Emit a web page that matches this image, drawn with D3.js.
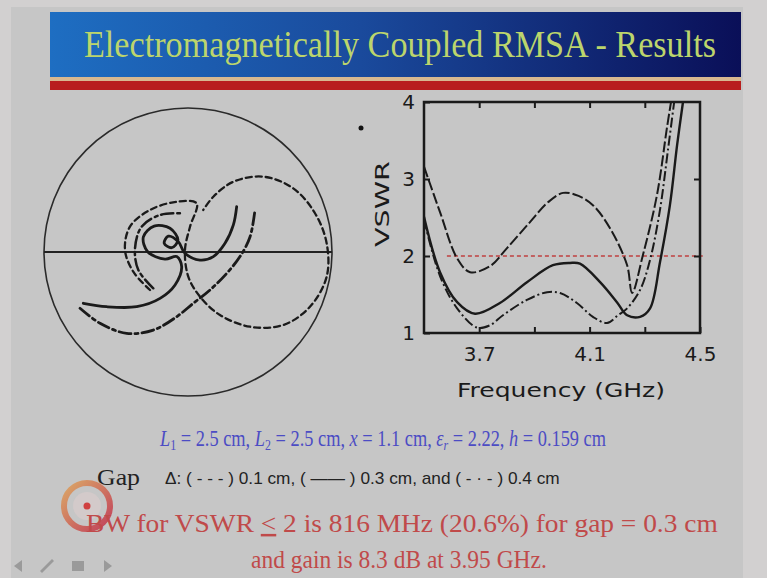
<!DOCTYPE html>
<html><head><meta charset="utf-8">
<script src="https://cdn.jsdelivr.net/npm/d3@7"></script>
<style>html,body{margin:0;padding:0;background:#c8c8c8;}svg{display:block}</style>
</head><body>
<svg id="c" width="767" height="578"></svg>
<script>
// ---------- DATA ----------
const titleText = "Electromagnetically Coupled RMSA - Results";

// VSWR vs frequency (GHz), three gap values
const freqGap01 = [3.50,3.558,3.62,3.667,3.74,3.80,3.884,3.95,4.004,4.06,4.112,4.174,4.236,4.254,4.293,4.344,4.380,4.395];
const vswrGap01 = [3.16,2.57,1.97,1.79,1.87,2.10,2.44,2.70,2.82,2.78,2.66,2.36,1.88,1.52,2.01,2.79,3.66,4.00];

const freqGap03 = [3.50,3.558,3.62,3.685,3.775,3.873,3.967,4.029,4.065,4.138,4.199,4.236,4.283,4.319,4.355,4.391,4.417,4.438];
const vswrGap03 = [2.51,1.79,1.40,1.25,1.39,1.66,1.88,1.91,1.90,1.66,1.40,1.23,1.21,1.32,1.92,2.66,3.44,3.99];

const freqGap04 = [3.50,3.558,3.62,3.692,3.739,3.786,3.873,3.946,3.993,4.054,4.112,4.163,4.203,4.236,4.283,4.319,4.355,4.384,4.406];
const vswrGap04 = [2.47,1.74,1.32,1.07,1.10,1.23,1.43,1.53,1.52,1.39,1.21,1.13,1.23,1.32,1.56,1.95,2.60,3.38,3.99];

const refVSWR = 2;
const refRange = [3.583, 4.51];

const xTickValues = [3.7,3.9,4.1,4.3,4.5];
const xTickLabels = ["3.7","","4.1","","4.5"];
const yTickValues = [1,2,3,4];
const yTickLabels = ["1","2","3","4"];

// Smith chart loci: reflection coefficient [Re, Im]
const smithGap01 = [[-0.264,-0.264],[-0.380,-0.137],[-0.4375,0.014],[-0.403,0.176],[-0.264,0.292],[-0.078,0.349],[0.060,0.338],[0.014,0.176],[-0.021,0.014],[0.002,-0.171],[0.083,-0.310],[0.222,-0.4375],[0.431,-0.519],[0.662,-0.507],[0.847,-0.380],[0.963,-0.171],[0.963,0.060],[0.882,0.269],[0.731,0.442],[0.523,0.523],[0.315,0.488],[0.176,0.384],[0.106,0.292]];
const smithGap03 = [[-0.727,-0.356],[-0.565,-0.380],[-0.356,-0.380],[-0.194,-0.322],[-0.090,-0.229],[-0.044,-0.102],[-0.078,-0.032],[-0.160,-0.050],[-0.280,0.002],[-0.310,0.105],[-0.235,0.180],[-0.125,0.165],[-0.070,0.083],[-0.113,0.030],[-0.165,0.060],[-0.137,0.110],[-0.067,0.072],[-0.021,-0.009],[0.083,-0.056],[0.176,-0.032],[0.257,0.060],[0.315,0.188],[0.338,0.315]];
const smithGap04a = [[-0.75,-0.391],[-0.611,-0.495],[-0.426,-0.565],[-0.241,-0.542],[-0.078,-0.449],[0.037,-0.356],[0.153,-0.264],[0.269,-0.148],[0.361,-0.032],[0.431,0.106],[0.465,0.292]];
const smithGap04b = [[-0.241,-0.252],[-0.345,-0.125],[-0.368,0.025],[-0.322,0.176],[-0.194,0.257],[-0.056,0.269]];

// ---------- DRAW ----------
const svg = d3.select("#c");
const defs = svg.append("defs");
const bg = defs.append("linearGradient").attr("id","ban").attr("x1","0").attr("x2","1");
bg.append("stop").attr("offset","0").attr("stop-color","#1e6ec2");
bg.append("stop").attr("offset","0.45").attr("stop-color","#1a4a9c");
bg.append("stop").attr("offset","1").attr("stop-color","#0a0f58");
const lg = defs.append("linearGradient").attr("id","logo").attr("x1","0").attr("x2","1").attr("y1","0").attr("y2","1");
lg.append("stop").attr("offset","0").attr("stop-color","#e0a050");
lg.append("stop").attr("offset","1").attr("stop-color","#c02040");

function squeezed(parent, x0, y, fontSize, family, fill, width, anchor, build){
  const g = parent.append("g");
  const t = g.append("text").attr("x",0).attr("y",0).attr("font-family",family)
    .attr("font-size",fontSize).attr("fill",fill);
  build(t);
  const w = t.node().getComputedTextLength();
  const k = width / w;
  const left = anchor === "middle" ? x0 - width/2 : x0;
  g.attr("transform",`translate(${left},${y}) scale(${k},1)`);
  return k;
}

// slide background
svg.append("rect").attr("x",0).attr("y",0).attr("width",767).attr("height",578).attr("fill","#d2d0d0");
svg.append("rect").attr("x",11).attr("y",7).attr("width",732).attr("height",571).attr("fill","#c6c6c6");

// banner
svg.append("rect").attr("x",50).attr("y",12).attr("width",691).attr("height",65).attr("fill","url(#ban)");
svg.append("rect").attr("x",50).attr("y",77).attr("width",691).attr("height",4).attr("fill","#d8b890");
svg.append("rect").attr("x",50).attr("y",81).attr("width",691).attr("height",9).attr("fill","#b81e1e");
const serif = "Liberation Serif, Times New Roman, serif";
squeezed(svg, 400, 57, 37, serif, "#bcd56c", 632, "middle", t=>t.text(titleText));

// ---------- Smith chart ----------
const sx = d3.scaleLinear().domain([-1,1]).range([44,332]);
const sy = d3.scaleLinear().domain([-1,1]).range([396,108]);
const sm = svg.append("g");
sm.append("circle").attr("cx",sx(0)).attr("cy",sy(0)).attr("r",sx(1)-sx(0))
  .attr("fill","none").attr("stroke","#2a2a2a").attr("stroke-width",1.6);
sm.append("line").attr("x1",sx(-1)).attr("x2",sx(1)).attr("y1",sy(0)).attr("y2",sy(0))
  .attr("stroke","#222").attr("stroke-width",2.2);
const sline = d3.line().x(d=>sx(d[0])).y(d=>sy(d[1])).curve(d3.curveCatmullRom.alpha(0.5));
const smithSeries = [
  {d:smithGap01, dash:"6,4", w:2.3},
  {d:smithGap03, dash:null, w:2.8},
  {d:smithGap04a, dash:"12,4,3,4", w:2.8},
  {d:smithGap04b, dash:"12,4,3,4", w:2.5}
];
smithSeries.forEach(s=>{
  sm.append("path").attr("d",sline(s.d)).attr("fill","none").attr("stroke","#1a1a1a")
    .attr("stroke-width",s.w).attr("stroke-dasharray",s.dash).attr("stroke-linecap","round");
});

// ---------- VSWR plot ----------
const fx = d3.scaleLinear().domain([3.5,4.5]).range([424,700]);
const vy = d3.scaleLinear().domain([1,4]).range([333,102]);
const vp = svg.append("g");
defs.append("clipPath").attr("id","pc").append("rect").attr("x",424).attr("y",102).attr("width",276).attr("height",231);

vp.append("line").attr("x1",fx(refRange[0])).attr("x2",fx(refRange[1])).attr("y1",vy(refVSWR)).attr("y2",vy(refVSWR))
  .attr("stroke","#c04848").attr("stroke-width",1.8).attr("stroke-dasharray","4,3").attr("opacity",0.8);

const vline = d3.line().x(d=>fx(d[0])).y(d=>vy(d[1])).curve(d3.curveCatmullRom.alpha(0.5));
const vSeries = [
  {f:freqGap01, v:vswrGap01, dash:"11,3", w:2.0},
  {f:freqGap03, v:vswrGap03, dash:null, w:2.4},
  {f:freqGap04, v:vswrGap04, dash:"10,3,2,3", w:2.0}
];
const cg = vp.append("g").attr("clip-path","url(#pc)");
vSeries.forEach(s=>{
  const pts = s.f.map((f,i)=>[f,s.v[i]]);
  cg.append("path").attr("d",vline(pts)).attr("fill","none").attr("stroke","#1a1a1a")
    .attr("stroke-width",s.w).attr("stroke-dasharray",s.dash);
});

const axFont = "DejaVu Sans, Verdana, sans-serif";
const xb = vp.append("g").attr("transform","translate(0,333)")
  .call(d3.axisBottom(fx).tickValues(xTickValues).tickSize(-6).tickPadding(14).tickFormat((d,i)=>xTickLabels[i]));
const xt = vp.append("g").attr("transform","translate(0,102)")
  .call(d3.axisTop(fx).tickValues(xTickValues.slice(0,4)).tickSize(-6).tickFormat(""));
const yl = vp.append("g").attr("transform","translate(424,0)")
  .call(d3.axisLeft(vy).tickValues(yTickValues).tickSize(-6).tickPadding(9).tickFormat((d,i)=>yTickLabels[i]));
const yr = vp.append("g").attr("transform","translate(700,0)")
  .call(d3.axisRight(vy).tickValues([2,3]).tickSize(-6).tickFormat(""));
[xb,xt,yl,yr].forEach(g=>{
  g.select(".domain").remove();
  g.selectAll(".tick line").attr("stroke","#1a1a1a").attr("stroke-width",2);
  g.selectAll("text").attr("font-family",axFont).attr("font-size",20).attr("fill","#1a1a1a");
});
vp.append("rect").attr("x",424).attr("y",102).attr("width",276).attr("height",231)
  .attr("fill","none").attr("stroke","#1a1a1a").attr("stroke-width",2.5);

vp.append("text").attr("transform","translate(389,204) rotate(-90)").attr("text-anchor","middle")
  .attr("font-family",axFont).attr("font-size",20).attr("fill","#1a1a1a")
  .attr("textLength",86).attr("lengthAdjust","spacingAndGlyphs").text("VSWR");
vp.append("text").attr("x",561).attr("y",397).attr("text-anchor","middle")
  .attr("font-family",axFont).attr("font-size",20).attr("fill","#1a1a1a")
  .attr("textLength",208).attr("lengthAdjust","spacingAndGlyphs").text("Frequency (GHz)");

svg.append("circle").attr("cx",361).attr("cy",128).attr("r",2.5).attr("fill","#111");

// ---------- text block ----------
squeezed(svg, 383, 446, 24, serif, "#4c4cc4", 446, "middle", t1=>{
  t1.append("tspan").attr("font-style","italic").text("L");
  t1.append("tspan").attr("font-size","0.65em").attr("dy",4).text("1");
  t1.append("tspan").attr("dy",-4).text(" = 2.5 cm, ");
  t1.append("tspan").attr("font-style","italic").text("L");
  t1.append("tspan").attr("font-size","0.65em").attr("dy",4).text("2");
  t1.append("tspan").attr("dy",-4).text(" = 2.5 cm, ");
  t1.append("tspan").attr("font-style","italic").text("x");
  t1.append("tspan").text(" = 1.1 cm, ");
  t1.append("tspan").attr("font-style","italic").text("ε");
  t1.append("tspan").attr("font-size","0.65em").attr("font-style","italic").attr("dy",4).text("r");
  t1.append("tspan").attr("dy",-4).text(" = 2.22, ");
  t1.append("tspan").attr("font-style","italic").text("h");
  t1.append("tspan").text(" = 0.159 cm");
});

squeezed(svg, 97, 485, 24, serif, "#222", 43, "start", t=>t.text("Gap"));
squeezed(svg, 165, 484, 16, "Liberation Sans, Arial, sans-serif", "#222", 395, "start",
  t=>t.text("Δ: ( - - - ) 0.1 cm, ( —— ) 0.3 cm, and ( - · - ) 0.4 cm"));

// logo
const lgG = svg.append("g");
lgG.append("circle").attr("cx",87).attr("cy",506).attr("r",23).attr("fill","none").attr("stroke","url(#logo)").attr("stroke-width",6).attr("opacity",0.8);
lgG.append("circle").attr("cx",87).attr("cy",506).attr("r",14).attr("fill","#d6caca").attr("opacity",0.8);
lgG.append("circle").attr("cx",87).attr("cy",506).attr("r",3.5).attr("fill","#d04040");

squeezed(svg, 86, 532, 25, serif, "#c04a4a", 632, "start", t3=>{
  t3.append("tspan").text("BW for VSWR ");
  t3.append("tspan").attr("text-decoration","underline").text("<");
  t3.append("tspan").text(" 2 is 816 MHz (20.6%) for gap = 0.3 cm");
});
squeezed(svg, 399, 568, 25, serif, "#c04a4a", 296, "middle", t=>t.text("and gain is 8.3 dB at 3.95 GHz."));

// nav icons
const nav = svg.append("g").attr("fill","#9a9a9a");
nav.append("path").attr("d","M14,566 l8,-6 v12 z");
nav.append("path").attr("d","M40,571 l12,-12 l2,2 l-12,12 z");
nav.append("rect").attr("x",72).attr("y",561).attr("width",12).attr("height",10);
nav.append("path").attr("d","M112,566 l-8,-6 v12 z");
</script>
</body></html>
